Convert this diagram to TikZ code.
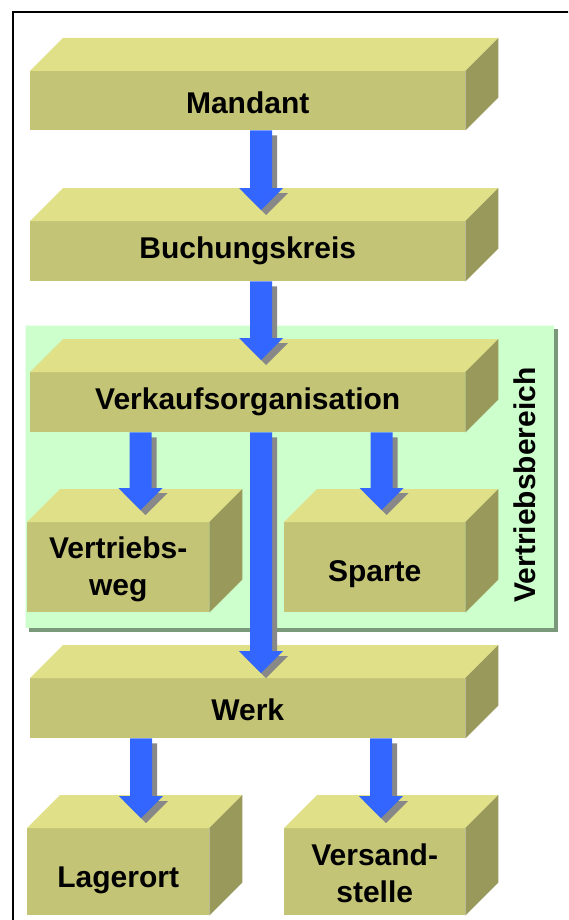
\documentclass[tikz,border=0pt]{standalone}
\usepackage{fontspec}
\setmainfont{Liberation Sans}
\usetikzlibrary{calc}
\definecolor{ctop}{RGB}{224,224,136}
\definecolor{cfront}{RGB}{196,196,118}
\definecolor{cside}{RGB}{153,153,92}
\definecolor{cblue}{RGB}{51,102,255}
\definecolor{cashadow}{RGB}{136,136,136}
\definecolor{cgreen}{RGB}{204,255,204}
\definecolor{cgshadow}{RGB}{122,152,122}
\definecolor{cghigh}{RGB}{236,255,236}
\tikzset{
  front/.style={fill=cfront, draw=none, inner sep=0pt, anchor=north west},
  topface/.style={fill=ctop},
  sideface/.style={fill=cside},
  lbl/.style={font=\bfseries\fontsize{30}{37}\selectfont, inner sep=0pt, align=center, text=black},
  garea/.style={fill=cgreen, draw=none, inner sep=0pt, anchor=north west},
  gshadow/.style={fill=cgshadow, draw=none, inner sep=0pt, anchor=north west},
}
% cuboid: name, x, y, width, height
\newcommand\cuboid[5]{%
  \node[front, minimum width=#4pt, minimum height=#5pt] (#1) at (#2,#3) {};
  \fill[topface] (#1.north west) -- ++(33,-33) -- ($(#1.north east)+(33,-33)$) -- (#1.north east) -- cycle;
  \fill[sideface] (#1.north east) -- ++(33,-33) -- ($(#1.south east)+(33,-33)$) -- (#1.south east) -- cycle;
}
% block arrow with shadow: start, tip
\newcommand\barrow[2]{%
  \fill[cashadow] let \p1=(#1), \p2=(#2) in
    (\x1-6pt,\y1-5pt) -- (\x1-6pt,\y2+17pt) -- (\x1-17pt,\y2+17pt) -- (\x1+5pt,\y2-5pt)
    -- (\x1+27pt,\y2+17pt) -- (\x1+16pt,\y2+17pt) -- (\x1+16pt,\y1-5pt) -- cycle;
  \fill[cblue] let \p1=(#1), \p2=(#2) in
    (\x1-11pt,\y1) -- (\x1-11pt,\y2+22pt) -- (\x1-22pt,\y2+22pt) -- (\x1,\y2)
    -- (\x1+22pt,\y2+22pt) -- (\x1+11pt,\y2+22pt) -- (\x1+11pt,\y1) -- cycle;
}
\begin{document}
\begin{tikzpicture}[x=1pt,y=-1pt]
\useasboundingbox (0,0) rectangle (568,920);
\clip (0,0) rectangle (568,920);
\fill[white] (0,0) rectangle (568,920);
% outer frame
\draw[line width=2pt, black] (13,940) -- (13,12) -- (600,12);
% Vertriebsbereich area
\node[gshadow, minimum width=529pt, minimum height=303pt] (vbs) at (29,329) {};
\node[garea, minimum width=529pt, minimum height=303pt] (vb) at (25,325) {};
\draw[cghigh, line width=1pt] (vb.south west) -- (vb.north west) -- (vb.north east);
% boxes
\cuboid{m}{30}{71}{435}{59}
\cuboid{bk}{30}{221}{435}{60}
\cuboid{vo}{30}{372}{435}{60}
\cuboid{vw}{27}{522}{182}{90}
\cuboid{sp}{284}{522}{181}{90}
\cuboid{w}{30}{678}{435}{60}
\cuboid{lo}{27}{828}{182}{87}
\cuboid{vs}{284}{828}{181}{87}
% labels
\node[lbl, anchor=base] (mt) at ($(m.center)+(0,12.5)$) {Mandant};
\node[lbl, anchor=base] (bkt) at ($(bk.center)+(0,7)$) {Buchungskreis};
\node[lbl, anchor=base] (vot) at ($(vo.center)+(0,7)$) {Verkaufsorganisation};
\node[lbl] (vwt) at ($(vw.center)+(0,2)$) {Vertriebs-\\weg};
\node[lbl, anchor=base] (spt) at ($(sp.center)+(0,14)$) {Sparte};
\node[lbl, anchor=base] (wt) at ($(w.center)+(0,12)$) {Werk};
\node[lbl, anchor=base] (lot) at ($(lo.center)+(0,15.5)$) {Lagerort};
\node[lbl] (vst) at ($(vs.center)+(0,2)$) {Versand-\\stelle};
\node[lbl, rotate=90] (vbt) at (525,485) {Vertriebsbereich};
% arrows
\barrow{$(m.south west)+(231,0)$}{$(bk.north west)+(231,-11)$}
\barrow{$(bk.south west)+(231,0)$}{$(vo.north west)+(231,-12)$}
\barrow{$(vo.south west)+(110.5,0)$}{$(vw.north west)+(113.5,-12)$}
\barrow{$(vo.south west)+(231,0)$}{$(w.north west)+(231,-5)$}
\barrow{$(vo.south west)+(351.5,0)$}{$(sp.north west)+(97.5,-12)$}
\barrow{$(w.south west)+(111,0)$}{$(lo.north west)+(114,-10)$}
\barrow{$(w.south west)+(351,0)$}{$(vs.north west)+(97,-10)$}
\end{tikzpicture}
\end{document}
